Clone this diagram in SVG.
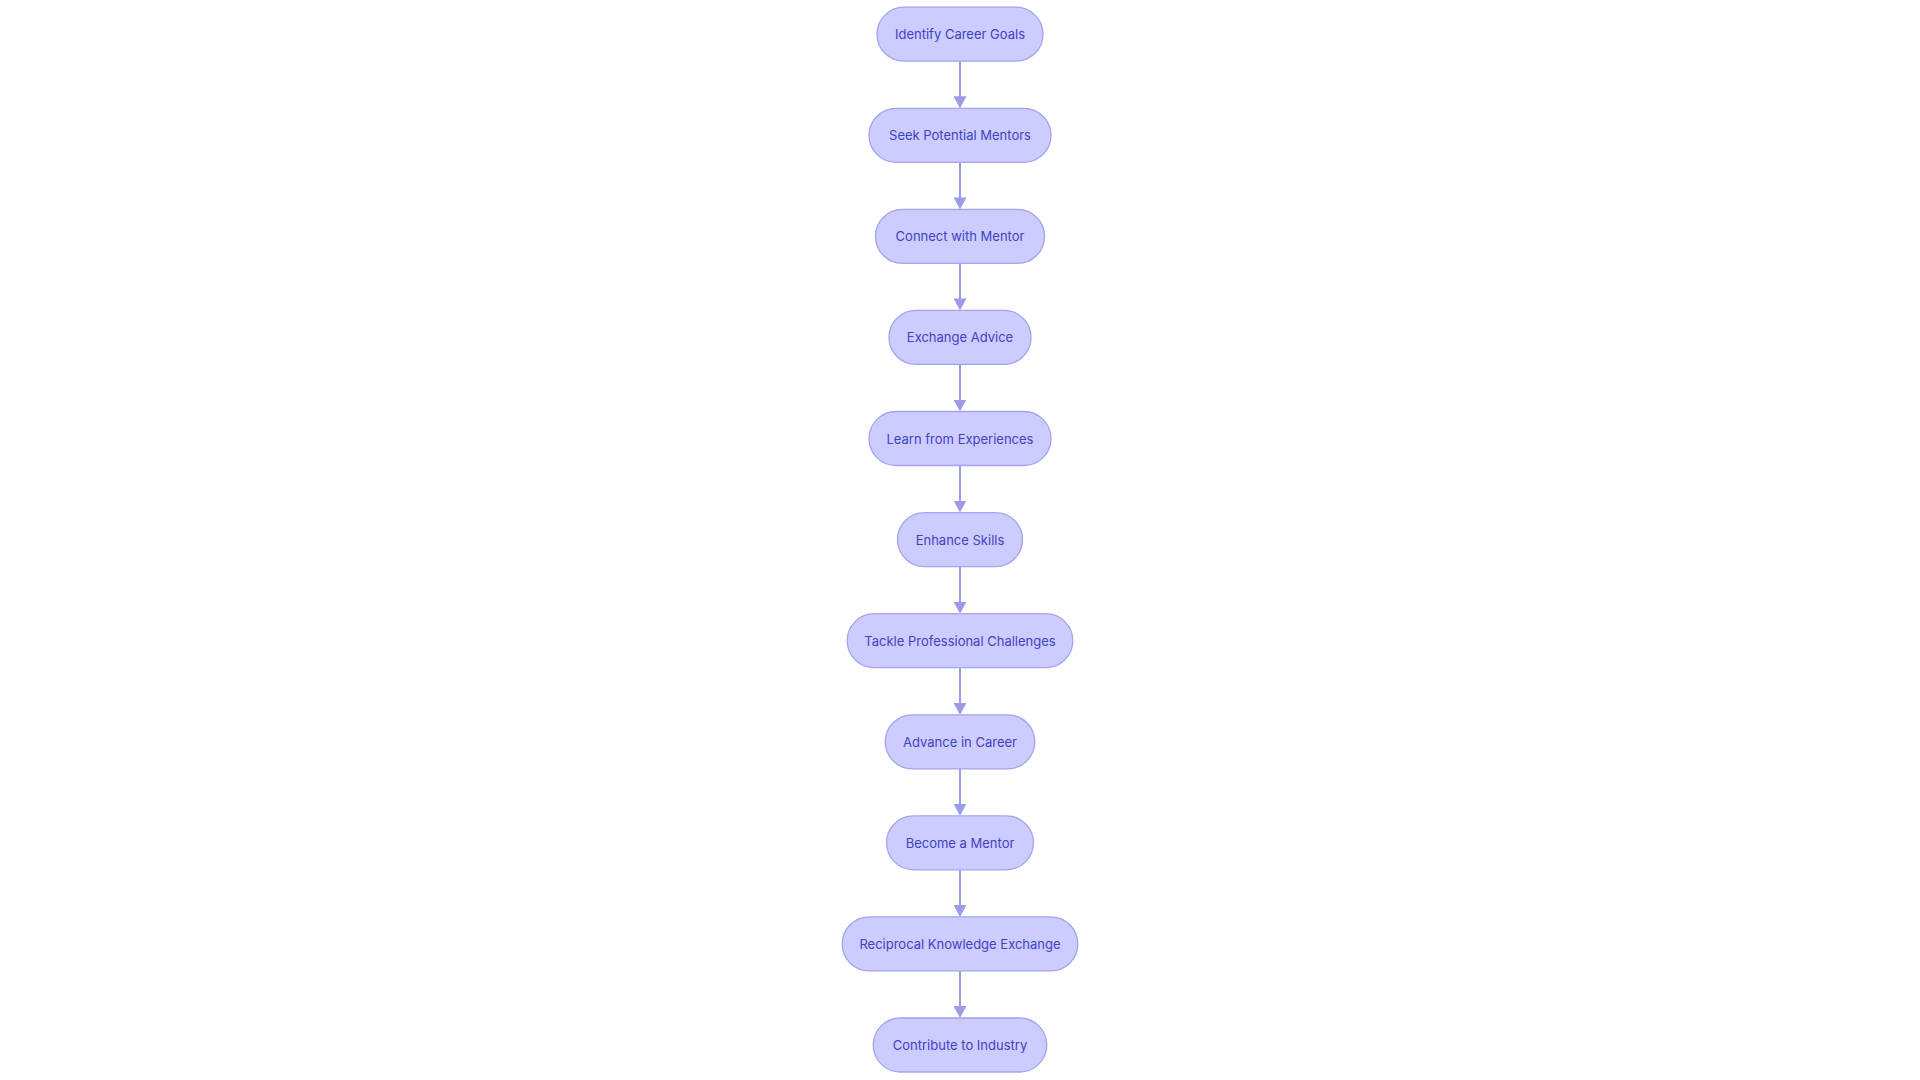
<svg xmlns="http://www.w3.org/2000/svg" width="1920" height="1080" viewBox="0 0 1920 1080">
<style>
.node rect{fill:#CCCCFF;stroke:#A3A3EE;stroke-width:1.3}
.node text{font-family:Inter,"Open Sans","Liberation Sans",sans-serif;font-size:13px;font-weight:400;fill:#4242C4;text-anchor:middle;dominant-baseline:central}
.edge{stroke:#9B9BE8;stroke-width:2;fill:none;marker-end:url(#arr)}
</style>
<defs>
<marker id="arr" viewBox="0 0 12 13" refX="8" refY="6.5" markerWidth="12" markerHeight="13" markerUnits="userSpaceOnUse" orient="auto">
<path d="M0,0 L12,6.5 L0,13 z" fill="#9B9BE8"/>
</marker>
</defs>
<rect width="1920" height="1080" fill="#ffffff"/>
<g id="connectors">
<line class="edge" x1="960" y1="61.2" x2="960" y2="104.3"/>
<line class="edge" x1="960" y1="162.3" x2="960" y2="205.4"/>
<line class="edge" x1="960" y1="263.4" x2="960" y2="306.4"/>
<line class="edge" x1="960" y1="364.4" x2="960" y2="407.5"/>
<line class="edge" x1="960" y1="465.5" x2="960" y2="508.6"/>
<line class="edge" x1="960" y1="566.6" x2="960" y2="609.7"/>
<line class="edge" x1="960" y1="667.7" x2="960" y2="710.8"/>
<line class="edge" x1="960" y1="768.8" x2="960" y2="811.8"/>
<line class="edge" x1="960" y1="869.8" x2="960" y2="912.9"/>
<line class="edge" x1="960" y1="970.9" x2="960" y2="1014"/>
</g>
<g id="n1" class="node"><rect x="877" y="7.2" width="166" height="54" rx="27"/><text x="960" y="34.2">Identify Career Goals</text></g>
<g id="n2" class="node"><rect x="869" y="108.3" width="182" height="54" rx="27"/><text x="960" y="135.3">Seek Potential Mentors</text></g>
<g id="n3" class="node"><rect x="875.5" y="209.4" width="169" height="54" rx="27"/><text x="960" y="236.4">Connect with Mentor</text></g>
<g id="n4" class="node"><rect x="889" y="310.4" width="142" height="54" rx="27"/><text x="960" y="337.4">Exchange Advice</text></g>
<g id="n5" class="node"><rect x="869" y="411.5" width="182" height="54" rx="27"/><text x="960" y="438.5">Learn from Experiences</text></g>
<g id="n6" class="node"><rect x="897.5" y="512.6" width="125" height="54" rx="27"/><text x="960" y="539.6">Enhance Skills</text></g>
<g id="n7" class="node"><rect x="847.2" y="613.7" width="225.6" height="54" rx="27"/><text x="960" y="640.7">Tackle Professional Challenges</text></g>
<g id="n8" class="node"><rect x="885.2" y="714.8" width="149.6" height="54" rx="27"/><text x="960" y="741.8">Advance in Career</text></g>
<g id="n9" class="node"><rect x="886.5" y="815.8" width="147" height="54" rx="27"/><text x="960" y="842.8">Become a Mentor</text></g>
<g id="n10" class="node"><rect x="842.2" y="916.9" width="235.6" height="54" rx="27"/><text x="960" y="943.9">Reciprocal Knowledge Exchange</text></g>
<g id="n11" class="node"><rect x="873.3" y="1018" width="173.4" height="54" rx="27"/><text x="960" y="1045">Contribute to Industry</text></g>
</svg>
